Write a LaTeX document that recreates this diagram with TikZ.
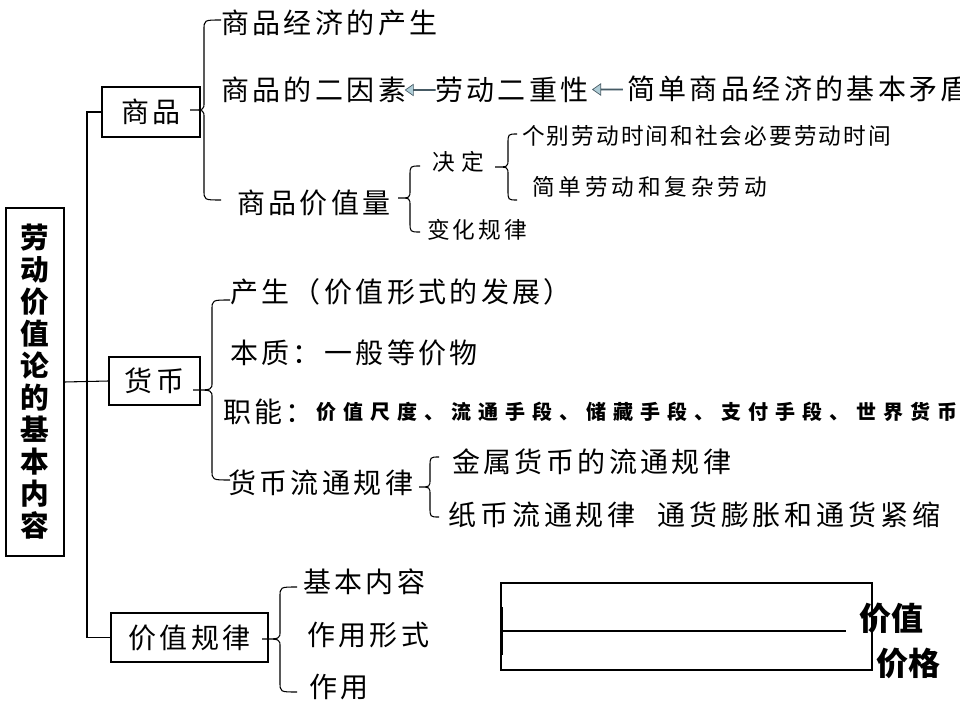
\documentclass[tikz,border=0pt]{standalone}
\usepackage{fontspec}
\setmainfont{Noto Sans CJK SC}
\usetikzlibrary{shapes.arrows,calc}
\definecolor{arrowfill}{RGB}{175,205,215}
\definecolor{arrowline}{RGB}{70,90,100}
\newcommand\mybrace[6]{%
  \draw[lw] (#6,#4) .. controls (#3,#4) .. (#3,#4+10) -- (#3,#2-8)
    .. controls (#3,#2) .. (#1,#2) .. controls (#3,#2) .. (#3,#2+8)
    -- (#3,#5-10) .. controls (#3,#5) .. (#6,#5);}
\tikzset{
  lw/.style={line width=0.8pt},
  box/.style={draw, line width=0.8pt, inner sep=0pt,
    font=\fontsize{21pt}{23pt}\selectfont\addfontfeatures{LetterSpace=12}},
  bigtxt/.style={inner sep=0pt, anchor=west,
    font=\fontsize{21pt}{23pt}\selectfont\addfontfeatures{LetterSpace=#1}},
  bigtxt/.default=12,
  smalltxt/.style={inner sep=0pt, anchor=west,
    font=\fontsize{17pt}{19pt}\selectfont\addfontfeatures{LetterSpace=#1}},
  smalltxt/.default=13,
  listtxt/.style={inner sep=0pt, anchor=west,
    font=\bfseries\fontsize{15pt}{17pt}\selectfont\addfontfeatures{LetterSpace=35}},
  boldtxt/.style={inner sep=0pt, anchor=west, font=\bfseries\fontsize{24pt}{26pt}\selectfont},
  blockarrow/.style={single arrow, draw=arrowline, fill=arrowfill, line width=0.5pt,
    shape border rotate=180, minimum height=22.5pt, minimum width=8.5pt,
    single arrow head extend=2.4pt, single arrow tip angle=70, inner sep=0pt}
}
\begin{document}
\begin{tikzpicture}[x=0.75pt,y=-0.75pt]
\useasboundingbox (0,0) rectangle (960,720);
% title box
\node[draw, lw, minimum width=43.5pt, minimum height=261pt, inner sep=0pt, align=center,
  font=\bfseries\fontsize{21.5pt}{24pt}\selectfont] (title) at (35,382)
  {劳\\动\\价\\值\\论\\的\\基\\本\\内\\容};
% category boxes
\node[box, minimum width=73.5pt, minimum height=37.5pt] (shangpin) at (151,112) {商品};
\node[box, minimum width=68.25pt, minimum height=36pt] (huobi) at (154.5,381) {货币};
\node[box, minimum width=117.75pt, minimum height=36.75pt] (guilv) at (189.5,637.5) {价值规律};
% trunk
\coordinate (trunk) at (87,382);
\draw[lw] (shangpin.west) -| (trunk) |- (guilv.west);
\draw[lw] (title.east) -- (huobi.west);

% commodity
\node[bigtxt] (t1) at (221,23) {商品经济的产生};
\node[bigtxt] (yinsu) at (221,90) {商品的二因素};
\node[bigtxt] (erchong) at (435,90) {劳动二重性};
\node[bigtxt] (maodun) at (627,89) {简单商品经济的基本矛盾};
\node[blockarrow] (a1) at ($(yinsu.east)!0.5!(erchong.west)$) {};
\node[blockarrow] (a2) at ($(erchong.east)!0.5!(maodun.west)$) {};
\node[bigtxt] (jzl) at (237,203) {商品价值量};
\node[smalltxt=28] (jueding) at (432,162) {决定};
\node[smalltxt=13] (bhgl) at (427,230) {变化规律};
\node[smalltxt=9] (gebie) at (522,136) {个别劳动时间和社会必要劳动时间};
\node[smalltxt=17] (jiandan) at (532,187) {简单劳动和复杂劳动};
\mybrace{190}{110}{204}{20}{200}{221}
\mybrace{398}{198}{410}{166}{232}{420}
\mybrace{495}{167}{508}{134}{200}{517}

% money
\node[bigtxt] (chansheng) at (230,292) {产生（价值形式的发展）};
\node[bigtxt] (benzhi) at (230,353) {本质：一般等价物};
\node[bigtxt] (zhineng) at (223,412) {职能：};
\node[listtxt] (zhinenglist) at (316,412) {价值尺度、流通手段、储藏手段、支付手段、世界货币};
\node[bigtxt] (ltgl) at (228,483) {货币流通规律};
\node[bigtxt] (jinshu) at (452,462) {金属货币的流通规律};
\node[bigtxt=14] (zhibi) at (448,515) {纸币流通规律\hspace{16pt}通货膨胀和通货紧缩};
\mybrace{193}{390}{212}{300}{480}{230}
\mybrace{419}{487}{430}{457}{517}{439}

% law of value
\node[bigtxt] (jbnr) at (303,582) {基本内容};
\node[bigtxt] (zyxs) at (307,635) {作用形式};
\node[bigtxt] (zy) at (309,687) {作用};
\mybrace{262}{639}{280}{587}{692}{297}

% value / price box
\draw[lw] (501,583) rectangle (872,670);
\draw[line width=1.6pt] (502,607) -- (502,655);
\coordinate (lineend) at (846,631);
\draw[lw] (502,631) -- (lineend);
\node[boldtxt] (jiazhi) at (859,618) {价值};
\node[boldtxt] (jiage) at (876,663) {价格};
\end{tikzpicture}
\end{document}
